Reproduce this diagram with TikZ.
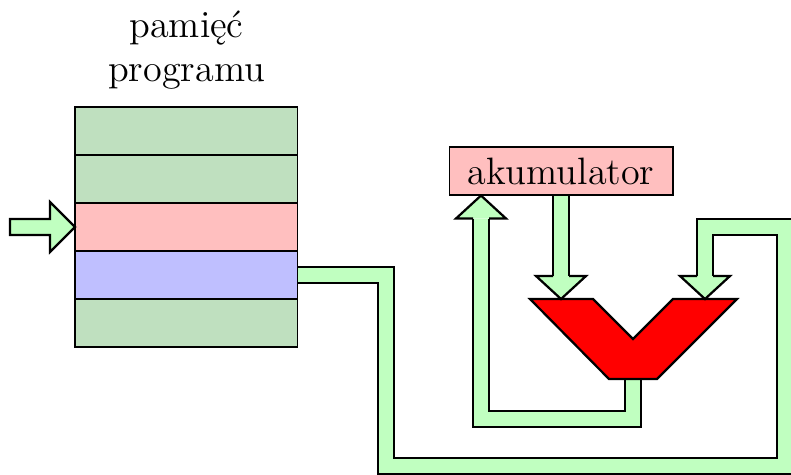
\documentclass[tikz,border=0pt]{standalone}
\usepackage{fontspec}
\usetikzlibrary{calc}

\definecolor{memgreen}{RGB}{191,224,191}
\definecolor{pipegreen}{RGB}{192,255,192}
\definecolor{cellred}{RGB}{255,191,191}
\definecolor{cellblue}{RGB}{191,191,255}

\begin{document}
\begin{tikzpicture}[x=0.38pt, y=-0.38pt,
    font=\fontsize{14.5}{16.7}\selectfont,
    cell/.style={draw, minimum width=84.7pt, minimum height=18.24pt, inner sep=0pt, outer sep=0pt},
    pipe/.style={double=pipegreen, double distance=5.32pt, line width=0.85pt, line join=miter},
    phead/.pic={\filldraw[fill=pipegreen, line width=0.85pt, line join=miter]
        (-23,-8) -- (-23,-25) -- (0,0) -- (-23,25) -- (-23,8);}]
  \useasboundingbox (0,0) rectangle (791,474);

  % program memory
  \foreach \i/\c in {1/memgreen,2/memgreen,3/cellred,4/cellblue,5/memgreen}
    \node[cell, fill=\c, anchor=north west] (m\i) at (75,{107+48*(\i-1)}) {};
  \node[align=center, anchor=south, inner sep=0pt] (title) at (186.5,90) {pamięć\\programu};

  % accumulator and ALU
  \node[draw, fill=cellred, minimum width=85.1pt, minimum height=18.24pt, inner sep=0pt] (akum) at (561,171) {akumulator};
  \coordinate (alu-l) at (561,299);
  \coordinate (alu-r) at (705,299);
  \coordinate (alu-out) at (633,379);
  \coordinate (akum-in) at ($(akum.south)+(-80,0)$);

  % input arrow
  \filldraw[fill=pipegreen, line width=0.85pt, line join=miter] (m3.west) -- ++(-25,-25) -- ++(0,17)
    -- ++(-40,0) -- ++(0,16) -- ++(40,0) -- ++(0,17) -- cycle;

  % pipes
  \draw[pipe, shorten <=0.2pt] (akum.south) -- ($(alu-l)+(0,-23)$);
  \draw[pipe, shorten <=0.4pt] (alu-out) -- ++(0,40) -| ($(akum-in)+(0,23)$);
  \draw[pipe, shorten <=0.2pt] (m4.east) -| (386,466) -| (785,227) -| ($(alu-r)+(0,-23)$);

  \filldraw[fill=red, line width=0.85pt, line join=miter] (530,299) -- (593,299) -- (633,339) -- (673,299)
    -- (737,299) -- (alu-out -| 657,0) -- (alu-out -| 609,0) -- cycle;

  \pic[rotate=-90] at (alu-l) {phead};
  \pic[rotate=-90] at (alu-r) {phead};
  \pic[rotate=90] at (akum-in) {phead};
\end{tikzpicture}
\end{document}
